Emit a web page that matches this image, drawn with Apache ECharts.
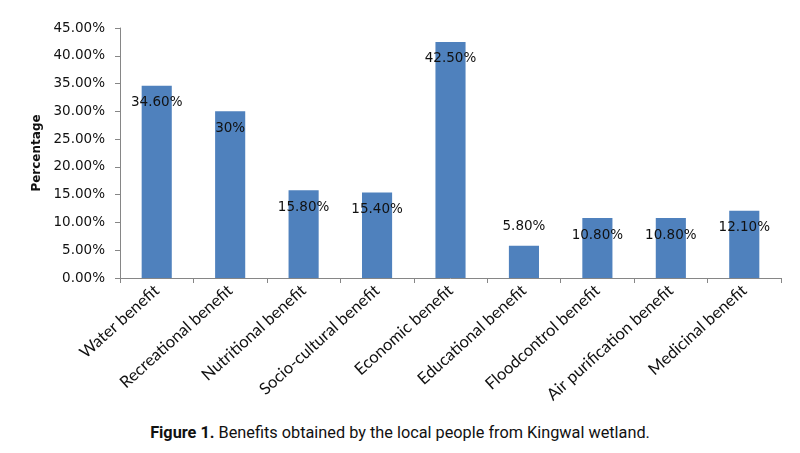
<!DOCTYPE html>
<html>
<head>
<meta charset="utf-8">
<script src="https://cdn.jsdelivr.net/npm/echarts@6/dist/echarts.min.js"></script>
<style>
html,body{margin:0;padding:0;background:#fff;}
#chart{width:800px;height:415px;}
#cap{position:absolute;left:0;top:423px;width:800px;text-align:center;font-family:"Liberation Sans Narrow","Roboto",sans-serif;font-size:16.3px;color:#111;}
</style>
</head>
<body>
<div id="chart"></div>
<div id="cap"><b>Figure 1.</b> Benefits obtained by the local people from Kingwal wetland.</div>
<script>
const categories = ["Water benefit","Recreational benefit","Nutritional benefit","Socio-cultural benefit","Economic benefit","Educational benefit","Floodcontrol benefit","Air purification benefit","Medicinal benefit"];
const values = [34.6, 30, 15.8, 15.4, 42.5, 5.8, 10.8, 10.8, 12.1];
const valueLabels = ["34.60%","30%","15.80%","15.40%","42.50%","5.80%","10.80%","10.80%","12.10%"];
const labelAbove = [false,false,false,false,false,true,false,false,false];

const chart = echarts.init(document.getElementById('chart'));
const font = 'DejaVu Sans';
chart.setOption({
  animation:false,
  grid:{left:120,right:19,top:28,bottom:137},
  xAxis:{
    type:'category',
    data:categories,
    axisLine:{lineStyle:{color:'#868686',width:1}},
    axisTick:{show:true,alignWithLabel:false,length:5,lineStyle:{color:'#868686'}},
    axisLabel:{rotate:42,interval:0,color:'#111',fontFamily:'Lato',fontSize:16.5,margin:10}
  },
  yAxis:{
    type:'value',
    min:0,max:45,interval:5,
    name:'Percentage',
    nameLocation:'middle',
    nameGap:76,
    nameTextStyle:{fontFamily:font,fontWeight:'bold',fontSize:12,color:'#111'},
    axisLine:{show:true,lineStyle:{color:'#868686'}},
    axisTick:{show:true,inside:false,length:5,lineStyle:{color:'#868686'}},
    splitLine:{show:false},
    axisLabel:{formatter:v=>v.toFixed(2)+'%',fontFamily:font,fontSize:13.5,color:'#111',margin:15}
  },
  series:[{
    type:'bar',
    barWidth:'41%',
    itemStyle:{color:'#4F81BD'},
    data:values.map((v,i)=>({
      value:v,
      label:{
        show:true,
        position:labelAbove[i]?'top':'insideTop',
        distance:labelAbove[i]?12:10,
        formatter:valueLabels[i],
        fontFamily:font,fontSize:13.5,color:'#111'
      }
    }))
  }]
});
</script>
</body>
</html>
